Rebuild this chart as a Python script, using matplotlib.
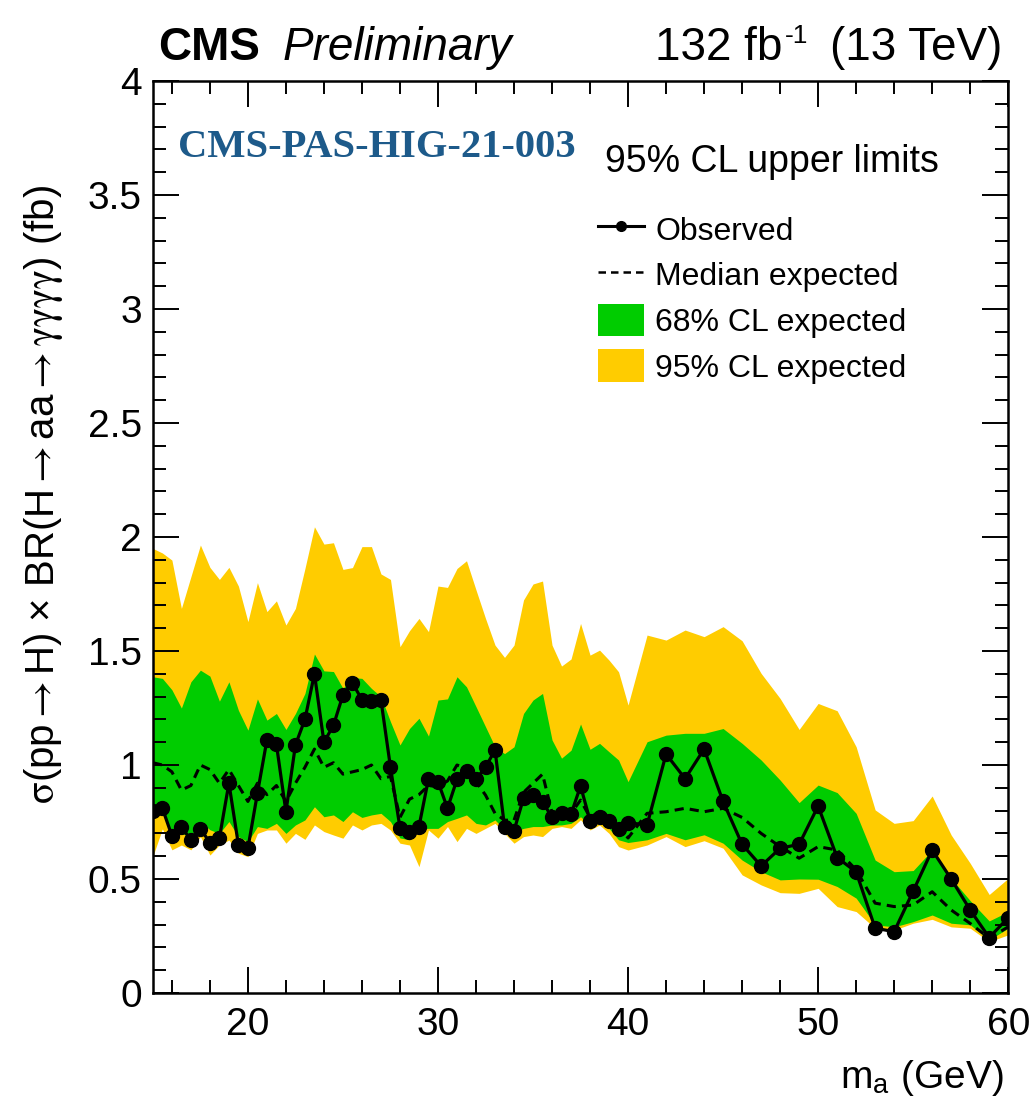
import matplotlib
matplotlib.use("Agg")
import matplotlib.pyplot as plt
from matplotlib.lines import Line2D
from matplotlib.patches import Patch
from matplotlib.ticker import MultipleLocator

plt.rcParams["font.family"] = ["Liberation Sans", "DejaVu Sans"]
plt.rcParams["mathtext.fontset"] = "stix"

# signal mass hypotheses (GeV): 0.5 GeV steps below 40, 1 GeV above
mass = [15, 15.5, 16, 16.5, 17, 17.5, 18, 18.5, 19, 19.5,
        20, 20.5, 21, 21.5, 22, 22.5, 23, 23.5, 24, 24.5,
        25, 25.5, 26, 26.5, 27, 27.5, 28, 28.5, 29, 29.5,
        30, 30.5, 31, 31.5, 32, 32.5, 33, 33.5, 34, 34.5,
        35, 35.5, 36, 36.5, 37, 37.5, 38, 38.5, 39, 39.5,
        40, 41, 42, 43, 44, 45, 46, 47, 48, 49,
        50, 51, 52, 53, 54, 55, 56, 57, 58, 59, 60]

observed = [0.80, 0.81, 0.69, 0.73, 0.67, 0.72, 0.66, 0.68, 0.92, 0.65,
            0.635, 0.876, 1.11, 1.09, 0.795, 1.088, 1.20, 1.40, 1.10, 1.174,
            1.307, 1.36, 1.286, 1.28, 1.285, 0.99, 0.725, 0.707, 0.73, 0.94,
            0.927, 0.81, 0.937, 0.974, 0.938, 0.99, 1.066, 0.73, 0.712, 0.854,
            0.868, 0.839, 0.77, 0.788, 0.784, 0.908, 0.756, 0.77, 0.756, 0.718,
            0.747, 0.737, 1.048, 0.94, 1.07, 0.84, 0.652, 0.557, 0.635, 0.652,
            0.82, 0.594, 0.531, 0.284, 0.269, 0.447, 0.627, 0.50, 0.364, 0.243, 0.33]

expected = [1.01, 1.0, 0.97, 0.89, 0.91, 1.0, 0.98, 0.92, 0.98, 0.91,
            0.84, 0.92, 0.87, 0.91, 0.84, 0.92, 0.99, 1.07, 0.99, 1.01,
            0.96, 0.97, 0.98, 1.0, 0.94, 0.95, 0.77, 0.85, 0.87, 0.91,
            0.905, 0.93, 1.0, 0.985, 0.927, 0.868, 0.788, 0.758, 0.758, 0.88,
            0.92, 0.96, 0.79, 0.788, 0.788, 0.846, 0.77, 0.795, 0.77, 0.73,
            0.68, 0.788, 0.795, 0.81, 0.795, 0.81, 0.77, 0.70, 0.642, 0.591,
            0.642, 0.627, 0.54, 0.394, 0.379, 0.386, 0.444, 0.364, 0.305, 0.24, 0.29]

hi68 = [1.387, 1.38, 1.33, 1.25, 1.365, 1.416, 1.39, 1.28, 1.365, 1.24,
        1.153, 1.29, 1.197, 1.226, 1.156, 1.226, 1.314, 1.487, 1.413, 1.41,
        1.336, 1.384, 1.38, 1.336, 1.30, 1.19, 1.088, 1.16, 1.205, 1.127,
        1.285, 1.29, 1.387, 1.343, 1.256, 1.168, 1.08, 1.05, 1.08, 1.226,
        1.285, 1.314, 1.11, 1.03, 1.065, 1.18, 1.069, 1.095, 1.058, 1.022,
        0.927, 1.102, 1.131, 1.139, 1.139, 1.16, 1.095, 1.022, 0.934, 0.835,
        0.912, 0.879, 0.788, 0.583, 0.532, 0.537, 0.627, 0.503, 0.405, 0.316, 0.357]

lo68 = [0.773, 0.788, 0.70, 0.70, 0.686, 0.752, 0.716, 0.70, 0.752, 0.686,
        0.664, 0.73, 0.722, 0.744, 0.70, 0.737, 0.759, 0.817, 0.773, 0.781,
        0.752, 0.795, 0.77, 0.781, 0.788, 0.752, 0.68, 0.672, 0.722, 0.722,
        0.722, 0.752, 0.766, 0.781, 0.744, 0.737, 0.759, 0.716, 0.708, 0.722,
        0.73, 0.73, 0.737, 0.737, 0.744, 0.773, 0.737, 0.748, 0.722, 0.672,
        0.66, 0.672, 0.70, 0.672, 0.694, 0.657, 0.583, 0.532, 0.496, 0.50,
        0.499, 0.467, 0.416, 0.299, 0.29, 0.313, 0.342, 0.306, 0.299, 0.233, 0.284]

hi95 = [1.95, 1.93, 1.899, 1.687, 1.826, 1.965, 1.867, 1.814, 1.867, 1.785,
        1.629, 1.80, 1.673, 1.72, 1.614, 1.687, 1.862, 2.045, 1.969, 1.975,
        1.858, 1.866, 1.958, 1.958, 1.838, 1.814, 1.519, 1.589, 1.643, 1.585,
        1.785, 1.779, 1.862, 1.896, 1.768, 1.643, 1.526, 1.472, 1.526, 1.724,
        1.794, 1.807, 1.526, 1.434, 1.465, 1.621, 1.482, 1.504, 1.46, 1.409,
        1.263, 1.57, 1.548, 1.592, 1.563, 1.607, 1.545, 1.402, 1.292, 1.156,
        1.27, 1.238, 1.08, 0.803, 0.744, 0.756, 0.864, 0.693, 0.569, 0.432, 0.503]

lo95 = [0.60, 0.72, 0.628, 0.649, 0.628, 0.686, 0.605, 0.649, 0.671, 0.613,
        0.598, 0.70, 0.715, 0.715, 0.657, 0.70, 0.674, 0.737, 0.708, 0.693,
        0.679, 0.737, 0.715, 0.737, 0.744, 0.715, 0.657, 0.649, 0.554, 0.715,
        0.679, 0.73, 0.664, 0.722, 0.70, 0.722, 0.744, 0.70, 0.657, 0.686,
        0.693, 0.686, 0.722, 0.73, 0.722, 0.76, 0.715, 0.737, 0.70, 0.642,
        0.627, 0.649, 0.686, 0.642, 0.668, 0.635, 0.518, 0.474, 0.44, 0.437,
        0.459, 0.379, 0.357, 0.284, 0.276, 0.306, 0.323, 0.29, 0.284, 0.225, 0.255]

yticks = [0, 0.5, 1, 1.5, 2, 2.5, 3, 3.5, 4]
ytick_labels = ["0", "0.5", "1", "1.5", "2", "2.5", "3", "3.5", "4"]

GREEN = "#00cc00"
YELLOW = "#ffcc00"

W, H = 1033, 1096
fig = plt.figure(figsize=(W / 100, H / 100), dpi=100)
ax = fig.add_axes([0.148, 0.094, 0.828, 0.832])

ax.fill_between(mass, lo95, hi95, color=YELLOW, lw=0)
ax.fill_between(mass, lo68, hi68, color=GREEN, lw=0)
ax.plot(mass, expected, color="black", ls=(0, (3, 2)), lw=2.2)
ax.plot(mass, observed, color="black", lw=2.3, marker="o", ms=10)

ax.set_xlim(15, 60)
ax.set_ylim(0, 4)
ax.xaxis.set_major_locator(MultipleLocator(10))
ax.xaxis.set_minor_locator(MultipleLocator(2))
ax.set_yticks(yticks, ytick_labels)
ax.yaxis.set_minor_locator(MultipleLocator(0.1))
ax.tick_params(which="both", direction="in", top=True, right=True, width=1.4,
               labelsize=28)
ax.tick_params(which="major", length=19)
ax.tick_params(which="minor", length=9.5)
ax.tick_params(axis="x", pad=10)
ax.tick_params(axis="y", pad=8)
for s in ax.spines.values():
    s.set_linewidth(1.8)

ylab = (r"$\mathrm{\sigma}$(pp$\rightarrow$H) × BR(H$\rightarrow$aa"
        r"$\rightarrow\mathrm{\gamma\gamma\gamma\gamma}$) (fb)")
ax.text(-0.128, 0.547, ylab, rotation=90, ha="center", va="center",
        fontsize=29, transform=ax.transAxes)
ax.text(0.995, -0.104, r"m$_{\mathregular{a}}$ (GeV)", ha="right", va="baseline",
        fontsize=28, transform=ax.transAxes)

# header
fig.text(0.153, 0.945, "CMS", fontsize=33, fontweight="bold", va="baseline")
fig.text(0.274, 0.945, "Preliminary", fontsize=33, style="italic", va="baseline")
lumi = fig.text(655 / W, 0.945, "132 fb", fontsize=33, va="baseline")
renderer = fig.canvas.get_renderer()
x_sup = lumi.get_window_extent(renderer).x1 + 2
fig.text(x_sup / W, 1 - 43 / H, "-1", fontsize=19, va="baseline")
fig.text(1002 / W, 0.945, "(13 TeV)", fontsize=33, ha="right", va="baseline")

ax.text(0.029, 0.917, "CMS-PAS-HIG-21-003", fontsize=29.2, fontweight="bold",
        family="Liberation Serif", color="#1d5a8a", va="baseline",
        transform=ax.transAxes)
ax.text(0.529, 0.90, "95% CL upper limits", fontsize=27, va="baseline",
        transform=ax.transAxes)

handles = [
    Line2D([], [], color="black", lw=2.2, marker="o", ms=7),
    Line2D([], [], color="black", lw=1.8, ls=(0, (3, 2))),
    Patch(facecolor=GREEN, edgecolor="none"),
    Patch(facecolor=YELLOW, edgecolor="none"),
]
labels = ["Observed", "Median expected", "68% CL expected", "95% CL expected"]
ax.legend(handles, labels, loc="upper left", bbox_to_anchor=(0.505, 0.87),
          frameon=False, fontsize=23, handlelength=1.45, handleheight=1.2,
          handletextpad=0.35, labelspacing=0.36, borderaxespad=0)

fig.savefig("out.png", dpi=100)
